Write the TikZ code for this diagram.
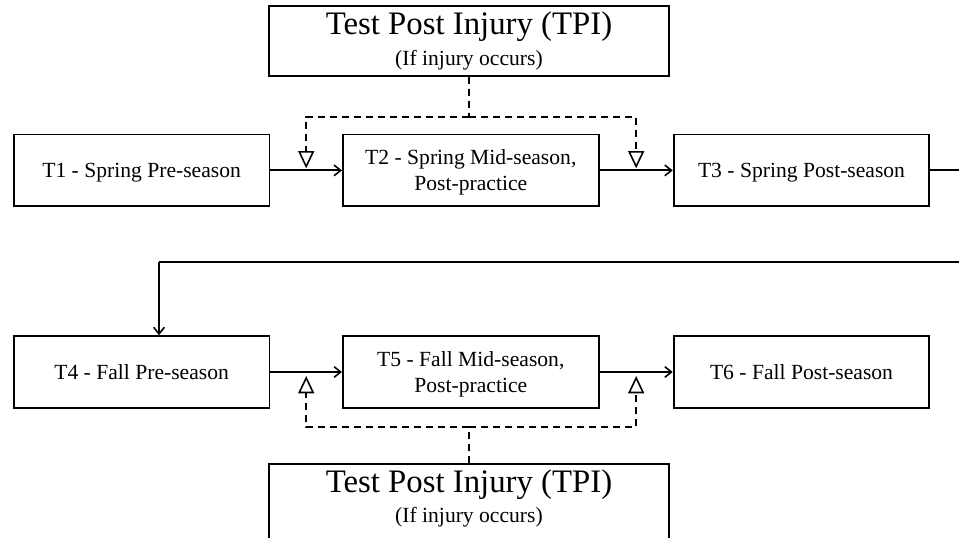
\documentclass[tikz,border=0pt]{standalone}
\usepackage{fontspec}
\setmainfont{Liberation Serif}
\usetikzlibrary{arrows.meta,positioning,calc}

\newcommand{\stagefont}{\fontsize{16.2}{19.5}\selectfont}
\newcommand{\tpifont}{\fontsize{24.6}{26}\selectfont}

\begin{document}
\begin{tikzpicture}[
  x=0.75pt, y=-0.75pt,
  node distance=53.7pt,
  stage/.style={
    draw,
    line width=1.4pt,
    align=center,
    inner sep=0pt,
    minimum width=191.8pt,
    minimum height=53.8pt,
    text depth=0pt,
    font=\stagefont
  },
  tpi/.style={
    draw,
    line width=1.4pt,
    align=center,
    inner sep=0pt,
    minimum width=300pt,
    minimum height=52.4pt
  },
  arr/.style={-{Straight Barb[length=5pt,width=8pt,line width=1.2pt]},line width=1.4pt},
  dsh/.style={line width=1.4pt,dash pattern=on 5.5pt off 3.5pt},
  tri/.style={-{Triangle[open,length=13pt,width=12pt,line width=1.2pt]}}
]
\useasboundingbox (0,0) rectangle (959,537);

% spring season
\node[stage] (t1) at (141.6,170.4) {T1 - Spring Pre-season};
\node[stage, right=of t1] (t2) {T2 - Spring Mid-season,\\Post-practice};
\node[stage, right=54.85pt of t2] (t3) {T3 - Spring Post-season};

% fall season
\node[stage] (t4) at (141.6,372) {T4 - Fall Pre-season};
\node[stage, right=of t4] (t5) {T5 - Fall Mid-season,\\Post-practice};
\node[stage, right=54.85pt of t5] (t6) {T6 - Fall Post-season};

% injury tests
\node[tpi] (tpitop) at (469,40.8)
  {{\tpifont Test Post Injury (TPI)}\\[5pt]{\stagefont (If injury occurs)}};
\node[tpi, minimum height=59.6pt, anchor=north] (tpibot) at (469,463.3)
  {{\tpifont Test Post Injury (TPI)}\\[5pt]{\stagefont (If injury occurs)}\\};

% points on the links
\coordinate (midA) at ($(t1.east)!0.5!(t2.west)$);
\coordinate (midB) at ($(t2.east)!0.5!(t3.west)$);
\coordinate (midC) at ($(t4.east)!0.5!(t5.west)$);
\coordinate (midD) at ($(t5.east)!0.5!(t6.west)$);
\coordinate (edgeA) at (962,170.4);
\coordinate (edgeB) at (962,262);
\coordinate (wrap) at (159,262);

\draw[arr] (t1) -- (t2);
\draw[arr] (t2) -- (t3);
\draw[line width=1.4pt] (t3.east) -- (edgeA);
\draw[line width=1.4pt] (edgeB) -- (wrap);
\draw[arr] (wrap) -- (wrap |- t4.north);
\draw[arr] (t4) -- (t5);
\draw[arr] (t5) -- (t6);

% dashed links to TPI
\draw[dsh] (tpitop.south) -- ++(0,40) coordinate (jt);
\draw[dsh,tri,shorten >=1.5pt] (jt) -| (midA);
\draw[dsh,tri,shorten >=1.5pt] (jt) -| (midB);
\draw[dsh] (tpibot.north) -- ++(0,-36) coordinate (jb);
\draw[dsh,tri,shorten >=3pt] (jb) -| (midC);
\draw[dsh,tri,shorten >=3pt] (jb) -| (midD);
\end{tikzpicture}
\end{document}
